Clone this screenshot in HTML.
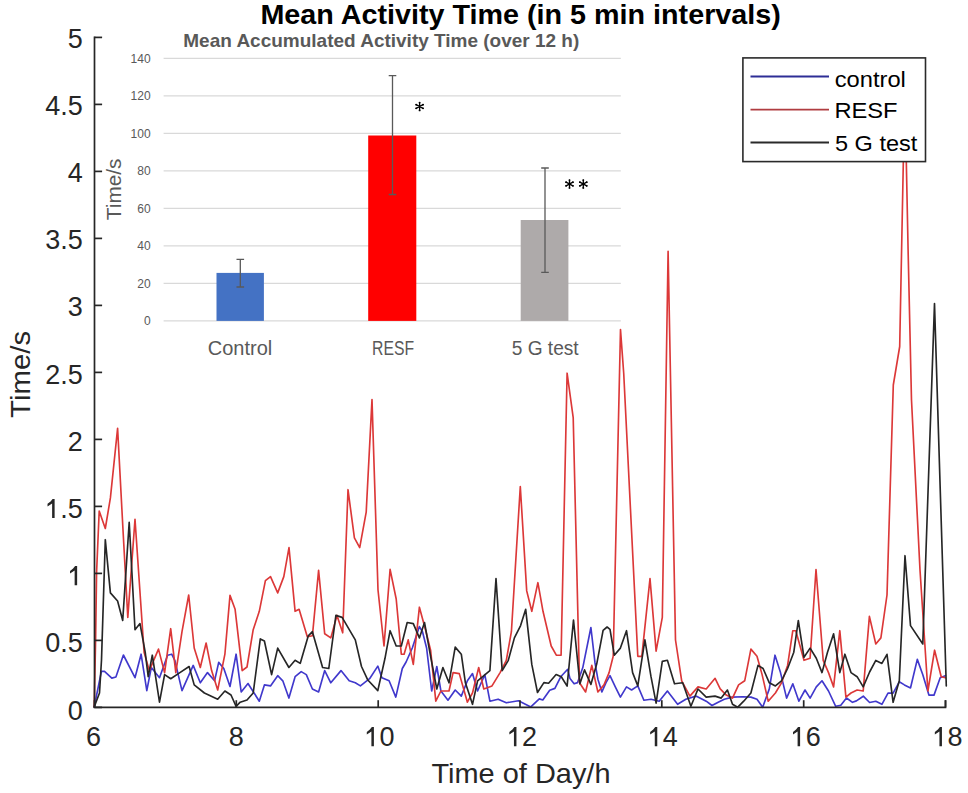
<!DOCTYPE html>
<html><head><meta charset="utf-8"><title>Mean Activity Time</title>
<style>html,body{margin:0;padding:0;background:#fff;}body{width:968px;height:793px;overflow:hidden;font-family:"Liberation Sans", sans-serif;}svg{display:block;}</style>
</head><body>
<svg width="968" height="793" viewBox="0 0 968 793" font-family='"Liberation Sans", sans-serif'><rect x="0" y="0" width="968" height="793" fill="#fff"/><g fill="none" stroke-width="1.65" stroke-linejoin="round" stroke-linecap="round"><polyline stroke="#4038cc" points="94.2,707.0 101.4,671.4 104.5,671.4 111.8,678.1 115.9,677.0 123.4,655.0 135.0,677.7 141.1,654.2 146.8,690.6 151.3,667.5 159.5,677.7 167.6,655.2 171.7,654.2 174.8,660.3 182.0,690.6 193.2,665.4 200.3,682.8 207.5,672.6 214.6,680.8 218.7,662.4 223.8,668.5 230.0,686.5 236.1,654.2 241.2,692.0 248.0,683.5 259.3,701.2 264.4,684.9 270.5,685.9 277.7,675.7 282.8,680.8 288.9,698.1 295.1,676.7 301.2,671.6 306.3,674.6 312.4,689.0 318.6,692.0 324.7,670.6 330.8,682.8 341.0,670.6 349.2,680.8 355.3,682.8 360.4,685.9 369.6,678.7 377.8,666.1 381.9,677.7 389.1,680.8 395.8,697.1 402.3,668.5 406.1,662.0 412.3,648.0 419.4,626.6 422.5,631.7 426.6,648.0 431.7,691.0 436.8,666.5 440.9,691.0 448.0,700.2 455.2,690.0 461.3,696.1 467.4,680.8 472.5,673.6 477.6,691.0 484.8,674.6 489.9,701.2 498.1,699.2 506.3,702.8 518.5,700.8 530.8,706.9 539.3,698.9 542.8,700.0 549.7,690.2 554.9,688.4 560.7,676.8 567.7,669.3 570.0,678.6 574.1,683.8 577.6,682.6 582.8,667.6 590.9,627.5 595.0,662.9 597.9,679.2 601.9,691.9 606.0,682.6 610.0,675.7 615.3,686.9 620.4,697.1 626.5,686.9 631.6,690.0 637.8,685.9 643.9,700.2 651.0,699.2 659.2,701.2 667.4,691.0 677.6,704.3 685.8,699.2 696.0,696.1 706.2,701.2 712.0,705.5 718.2,702.2 724.3,699.2 732.5,697.1 742.7,696.7 750.9,697.1 757.0,699.2 762.7,707.3 769.3,688.9 775.0,655.2 780.5,672.6 786.6,698.1 792.8,683.8 798.9,701.2 805.0,690.0 810.1,698.1 816.3,686.9 822.0,680.8 828.5,691.0 835.7,706.3 840.8,705.3 846.5,698.0 852.5,702.3 856.4,700.9 863.3,696.2 869.6,702.5 875.8,701.3 881.9,704.3 888.0,693.1 893.1,693.1 899.3,681.8 904.4,684.9 910.5,688.0 917.3,659.4 922.8,674.7 928.9,695.1 934.0,695.1 940.2,677.8 945.3,675.7"/><polyline stroke="#dc3838" points="94.2,707.0 95.6,640.0 96.6,572.0 99.2,511.1 105.3,528.5 110.4,497.9 117.6,428.4 123.0,530.0 127.8,617.4 135.0,519.3 144.1,652.2 149.3,670.6 158.5,649.1 164.6,672.6 170.7,628.7 175.8,672.6 182.0,631.7 188.7,595.0 194.2,648.0 200.3,667.5 206.1,643.0 211.6,670.6 217.7,690.0 224.9,654.2 230.0,595.4 235.1,609.3 242.2,670.6 247.0,667.0 253.2,629.7 259.3,611.3 265.4,580.6 270.5,576.6 277.7,592.9 283.8,576.6 289.0,547.6 295.1,611.3 299.1,609.3 307.3,636.8 312.4,635.8 318.6,570.4 324.7,633.8 330.8,637.9 337.0,615.4 342.7,632.8 348.0,489.7 354.4,537.9 359.7,547.6 366.2,512.2 372.0,399.6 378.0,590.0 384.0,646.0 390.1,569.4 396.2,599.0 401.3,654.2 404.1,654.2 408.2,639.9 413.3,664.4 419.4,607.2 425.5,629.7 430.6,650.1 435.8,701.2 440.9,691.0 449.0,691.0 453.1,672.6 459.3,673.6 467.4,702.2 472.5,693.0 478.7,667.5 483.8,689.0 492.0,685.9 500.1,672.6 506.3,660.3 511.4,631.7 520.3,486.5 526.7,590.9 531.8,611.3 537.9,582.7 543.0,611.3 551.2,646.0 556.3,655.2 561.1,655.2 567.1,373.2 573.2,417.6 579.5,682.8 585.6,692.0 591.8,665.4 597.9,692.0 604.0,684.9 609.1,672.6 613.2,656.3 620.5,329.6 623.7,373.0 637.8,656.3 641.8,656.3 650.0,578.6 656.1,651.1 662.3,617.4 668.1,251.3 675.5,640.0 681.7,680.8 689.9,696.1 698.0,686.9 706.2,689.0 715.1,678.3 720.2,688.9 726.3,695.1 732.5,698.1 738.6,684.9 744.7,680.8 750.9,649.1 757.0,656.3 762.1,674.6 768.2,701.2 775.4,693.0 781.5,682.8 787.6,665.4 792.8,630.7 795.8,630.7 804.0,660.3 810.1,658.3 816.0,569.5 823.2,660.3 828.5,672.6 833.6,686.9 839.8,630.7 845.9,697.1 851.0,693.0 857.1,690.0 863.2,691.0 869.4,616.4 875.8,644.0 880.9,637.9 887.0,595.0 893.3,385.0 899.7,346.5 904.8,87.0 908.1,250.0 911.5,400.0 920.0,570.0 927.9,691.0 934.6,650.2 941.2,676.7 945.3,677.8"/><polyline stroke="#262626" points="94.2,707.0 99.5,693.0 101.5,660.0 105.3,539.7 110.4,592.9 117.6,601.0 122.7,620.5 129.2,522.4 135.0,629.7 140.0,623.6 145.2,652.2 148.2,676.7 152.3,655.2 159.5,702.2 164.6,674.6 170.7,678.7 179.9,672.6 189.1,666.5 194.2,684.9 204.4,693.0 217.7,699.2 224.9,691.0 231.0,695.0 236.1,706.3 240.2,702.2 247.0,700.0 253.2,693.0 260.3,638.9 264.4,641.0 271.6,674.6 277.7,648.1 288.9,667.5 295.1,660.3 300.2,663.4 308.3,635.8 312.4,631.7 322.6,667.5 328.8,668.5 335.9,615.4 342.1,617.4 355.3,639.9 361.5,666.5 367.6,679.7 377.8,690.6 385.0,658.3 390.1,630.7 396.2,646.0 401.3,646.0 407.2,622.5 413.3,623.6 419.4,637.9 424.5,622.5 430.6,656.3 436.8,689.0 442.9,667.5 449.0,682.8 455.2,647.1 461.3,654.2 465.4,682.8 472.5,704.3 477.6,680.8 489.9,670.6 496.0,578.6 502.2,670.6 508.3,660.3 514.4,637.9 520.6,625.6 525.7,609.3 531.8,664.4 537.5,692.5 543.9,682.6 548.6,683.2 556.1,674.5 561.3,676.8 567.1,686.1 573.5,620.0 579.9,683.8 584.5,669.9 590.9,684.4 596.7,664.1 603.1,630.4 607.1,627.0 610.0,629.3 614.3,655.2 620.4,648.1 626.5,630.7 632.6,672.6 637.8,685.9 644.9,639.9 651.0,676.7 656.1,703.2 662.3,661.4 667.4,660.3 674.5,683.8 682.7,682.8 690.9,706.3 698.0,689.0 706.2,697.1 715.0,696.1 721.2,698.1 727.4,690.0 732.5,704.3 737.6,707.3 743.7,701.2 750.9,693.0 758.0,665.4 763.1,668.5 769.3,682.8 775.4,685.9 781.5,680.8 787.6,668.5 793.8,652.2 798.3,620.5 804.0,657.3 810.1,648.1 816.3,658.3 822.0,672.6 827.5,652.2 833.6,633.8 839.8,672.6 844.9,654.2 851.0,672.6 857.1,676.7 863.2,686.9 869.6,672.0 875.8,660.4 881.9,663.4 887.0,654.3 893.1,702.3 899.3,680.8 905.0,555.7 910.5,625.6 922.8,644.0 934.5,303.6 946.3,686.0"/></g><g stroke="#262626" stroke-width="1.7" fill="none"><path d="M94.5,36.59999999999998 V707.4 H945.5 V700.1999999999999"/><path d="M94.5,707.4 h7.6"/><path d="M94.5,640.4 h7.6"/><path d="M94.5,573.4 h7.6"/><path d="M94.5,506.4 h7.6"/><path d="M94.5,439.4 h7.6"/><path d="M94.5,372.4 h7.6"/><path d="M94.5,305.4 h7.6"/><path d="M94.5,238.4 h7.6"/><path d="M94.5,171.4 h7.6"/><path d="M94.5,104.4 h7.6"/><path d="M94.5,37.4 h7.6"/><path d="M94.5,707.4 v-7.2"/><path d="M236.3,707.4 v-7.2"/><path d="M378.2,707.4 v-7.2"/><path d="M520.0,707.4 v-7.2"/><path d="M661.8,707.4 v-7.2"/><path d="M803.7,707.4 v-7.2"/><path d="M945.5,707.4 v-7.2"/></g><g fill="#262626" font-size="27"><text x="67.69" y="719.60">0</text><text x="45.17" y="652.40">0.5</text><path d="M77.14,585.21 L74.64,585.21 L74.64,570.61 L70.04,573.61 L70.04,571.01 L73.09,568.61 L75.09,566.11 L77.14,566.11 Z"/><path d="M54.62,518.02 L52.12,518.02 L52.12,503.42 L47.52,506.42 L47.52,503.82 L50.57,501.42 L52.57,498.92 L54.62,498.92 Z"/><text x="60.18" y="518.02">.5</text><text x="67.69" y="450.82">2</text><text x="45.17" y="383.63">2.5</text><text x="67.69" y="316.43">3</text><text x="45.17" y="249.24">3.5</text><text x="67.69" y="182.04">4</text><text x="45.17" y="114.85">4.5</text><text x="67.69" y="47.65">5</text><text x="85.99" y="746.20">6</text><text x="228.83" y="746.20">8</text><path d="M373.90,746.20 L371.40,746.20 L371.40,731.60 L366.80,734.60 L366.80,732.00 L369.85,729.60 L371.85,727.10 L373.90,727.10 Z"/><text x="379.47" y="746.20">0</text><path d="M516.44,746.20 L513.94,746.20 L513.94,731.60 L509.34,734.60 L509.34,732.00 L512.39,729.60 L514.39,727.10 L516.44,727.10 Z"/><text x="522.00" y="746.20">2</text><path d="M657.27,746.20 L654.77,746.20 L654.77,731.60 L650.17,734.60 L650.17,732.00 L653.22,729.60 L655.22,727.10 L657.27,727.10 Z"/><text x="662.83" y="746.20">4</text><path d="M800.10,746.20 L797.60,746.20 L797.60,731.60 L793.00,734.60 L793.00,732.00 L796.05,729.60 L798.05,727.10 L800.10,727.10 Z"/><text x="805.67" y="746.20">6</text><path d="M941.94,746.20 L939.44,746.20 L939.44,731.60 L934.84,734.60 L934.84,732.00 L937.89,729.60 L939.89,727.10 L941.94,727.10 Z"/><text x="947.50" y="746.20">8</text></g><text x="521" y="783.2" fill="#262626" font-size="28" text-anchor="middle" textLength="179" lengthAdjust="spacingAndGlyphs">Time of Day/h</text><text transform="translate(30.0,374.4) rotate(-90)" fill="#262626" font-size="28" text-anchor="middle" textLength="87" lengthAdjust="spacingAndGlyphs">Time/s</text><text x="260.4" y="23.6" fill="#000" font-size="27" font-weight="bold" textLength="520.4" lengthAdjust="spacingAndGlyphs">Mean Activity Time (in 5 min intervals)</text><rect x="742.9" y="57.9" width="182.6" height="103.7" fill="#fff" stroke="#2a2a2a" stroke-width="1.6"/><path d="M750.5,76.5 H829" stroke="#2e2e96" stroke-width="1.9"/><path d="M750.5,109.6 H829" stroke="#b03c40" stroke-width="1.9"/><path d="M750.5,142.5 H829" stroke="#2a2a2a" stroke-width="1.9"/><g fill="#000" font-size="22.5"><text x="834.7" y="87" textLength="71.2" lengthAdjust="spacingAndGlyphs">control</text><text x="834.4" y="118.3" textLength="63.2" lengthAdjust="spacingAndGlyphs">RESF</text><text x="835" y="151" textLength="82.3" lengthAdjust="spacingAndGlyphs">5 G test</text></g><g stroke="#d9d9d9" stroke-width="1.1"><path d="M163.6,320.9 H620.8"/><path d="M163.6,283.4 H620.8"/><path d="M163.6,245.9 H620.8"/><path d="M163.6,208.4 H620.8"/><path d="M163.6,170.9 H620.8"/><path d="M163.6,133.4 H620.8"/><path d="M163.6,95.9 H620.8"/><path d="M163.6,58.4 H620.8"/></g><g fill="#595959" font-size="12" text-anchor="end"><text x="150.6" y="325.2">0</text><text x="150.6" y="287.7">20</text><text x="150.6" y="250.2">40</text><text x="150.6" y="212.7">60</text><text x="150.6" y="175.2">80</text><text x="150.6" y="137.7">100</text><text x="150.6" y="100.2">120</text><text x="150.6" y="62.7">140</text></g><rect x="216.5" y="272.9" width="47.4" height="48.0" fill="#4472c4"/><rect x="368.2" y="135.5" width="48.1" height="185.4" fill="#ff0000"/><rect x="520.7" y="220" width="47.7" height="100.9" fill="#aeaaaa"/><g stroke="#595959" stroke-width="1.3" fill="none"><path d="M240.3,259.4 V287.0 M236.5,259.4 h7.6 M236.5,287.0 h7.6"/><path d="M392.5,75.6 V194.5 M388.7,75.6 h7.6 M388.7,194.5 h7.6"/><path d="M545.0,168.0 V272.4 M541.2,168.0 h7.6 M541.2,272.4 h7.6"/></g><g stroke="#000" stroke-width="1.3" stroke-linecap="round" fill="none"><path d="M419.6,102.6 V110.4 M416.16,104.67 L423.04,108.33 M416.16,108.33 L423.04,104.67 "/><circle cx="419.60" cy="102.60" r="0.95" fill="#000" stroke="none"/><circle cx="419.60" cy="110.40" r="0.95" fill="#000" stroke="none"/><circle cx="416.16" cy="104.67" r="0.95" fill="#000" stroke="none"/><circle cx="423.04" cy="108.33" r="0.95" fill="#000" stroke="none"/><circle cx="416.16" cy="108.33" r="0.95" fill="#000" stroke="none"/><circle cx="423.04" cy="104.67" r="0.95" fill="#000" stroke="none"/><path d="M569.5,180.1 V187.9 M566.06,182.17 L572.94,185.83 M566.06,185.83 L572.94,182.17 "/><circle cx="569.50" cy="180.10" r="0.95" fill="#000" stroke="none"/><circle cx="569.50" cy="187.90" r="0.95" fill="#000" stroke="none"/><circle cx="566.06" cy="182.17" r="0.95" fill="#000" stroke="none"/><circle cx="572.94" cy="185.83" r="0.95" fill="#000" stroke="none"/><circle cx="566.06" cy="185.83" r="0.95" fill="#000" stroke="none"/><circle cx="572.94" cy="182.17" r="0.95" fill="#000" stroke="none"/><path d="M583.3,180.1 V187.9 M579.86,182.17 L586.74,185.83 M579.86,185.83 L586.74,182.17 "/><circle cx="583.30" cy="180.10" r="0.95" fill="#000" stroke="none"/><circle cx="583.30" cy="187.90" r="0.95" fill="#000" stroke="none"/><circle cx="579.86" cy="182.17" r="0.95" fill="#000" stroke="none"/><circle cx="586.74" cy="185.83" r="0.95" fill="#000" stroke="none"/><circle cx="579.86" cy="185.83" r="0.95" fill="#000" stroke="none"/><circle cx="586.74" cy="182.17" r="0.95" fill="#000" stroke="none"/></g><g fill="#595959" font-size="19.5" text-anchor="middle"><text x="240.05" y="355" textLength="64.5" lengthAdjust="spacingAndGlyphs">Control</text><text x="393.05" y="355" textLength="42" lengthAdjust="spacingAndGlyphs">RESF</text><text x="545.2" y="355" textLength="67" lengthAdjust="spacingAndGlyphs">5 G test</text></g><text transform="translate(121.4,189.4) rotate(-90)" fill="#595959" font-size="19.5" text-anchor="middle" textLength="61.5" lengthAdjust="spacingAndGlyphs">Time/s</text><text x="183.3" y="47.2" fill="#595959" font-size="18.4" font-weight="bold" textLength="396" lengthAdjust="spacingAndGlyphs">Mean Accumulated Activity Time (over 12 h)</text></svg>
</body></html>
